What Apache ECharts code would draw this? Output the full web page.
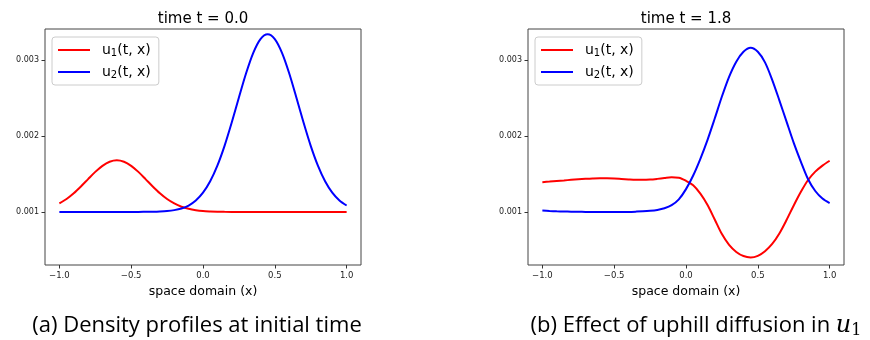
<!DOCTYPE html>
<html><head><meta charset="utf-8">
<script src="https://cdn.jsdelivr.net/npm/echarts@6/dist/echarts.min.js"></script>
<style>html,body{margin:0;padding:0;background:#fff}#c{width:870px;height:340px}</style>
</head><body><div id="c"></div>
<script>
const xs = [-1.0,-0.95,-0.9,-0.85,-0.8,-0.75,-0.7,-0.65,-0.6,-0.55,-0.5,-0.45,-0.4,-0.35,-0.3,-0.25,-0.2,-0.15,-0.1,-0.05,0.0,0.05,0.1,0.15,0.2,0.25,0.3,0.35,0.4,0.45,0.5,0.55,0.6,0.65,0.7,0.75,0.8,0.85,0.9,0.95,1.0];
const u1_t0 = [0.001111,0.001169,0.001245,0.001335,0.001432,0.001527,0.001607,0.001661,0.00168,0.001661,0.001607,0.001527,0.001432,0.001335,0.001245,0.001169,0.001111,0.001068,0.00104,0.001022,0.001011,0.001006,0.001003,0.001001,0.001,0.001,0.001,0.001,0.001,0.001,0.001,0.001,0.001,0.001,0.001,0.001,0.001,0.001,0.001,0.001,0.001];
const u2_t0 = [0.001,0.001,0.001,0.001,0.001,0.001,0.001,0.001,0.001,0.001,0.001,0.001,0.001001,0.001002,0.001005,0.001011,0.001023,0.001045,0.001084,0.00115,0.001253,0.001403,0.001609,0.00187,0.002177,0.002508,0.002827,0.003096,0.003277,0.00334,0.003277,0.003096,0.002827,0.002508,0.002177,0.00187,0.001609,0.001403,0.001253,0.00115,0.001084];
const u1_t18 = [0.001392,0.0014,0.001408,0.001415,0.001422,0.001429,0.001435,0.00144,0.001443,0.001443,0.00144,0.001434,0.001428,0.001423,0.001422,0.001426,0.001435,0.001446,0.001455,0.00145,0.00141,0.00135,0.00124,0.00109,0.0009,0.000707,0.000565,0.000472,0.000418,0.0004,0.000421,0.000482,0.000578,0.000716,0.000893,0.001085,0.001265,0.00142,0.00153,0.00161,0.001674];
const u2_t18 = [0.001017,0.001012,0.001008,0.001005,0.001003,0.001001,0.001,0.000999,0.000998,0.000998,0.000998,0.000999,0.001,0.001003,0.001007,0.001014,0.001026,0.001048,0.001088,0.001165,0.0013,0.00148,0.0017,0.00195,0.00223,0.00252,0.00278,0.00298,0.00311,0.003163,0.00311,0.00297,0.00274,0.00247,0.00219,0.00191,0.00166,0.00143,0.001275,0.001175,0.001115];
const xTicks = [-1, -0.5, 0, 0.5, 1];
const xTickLabels = ['\u22121.0','\u22120.5','0.0','0.5','1.0'];
const yTicks = [0.001, 0.002, 0.003];
const yTickLabels = ['0.001','0.002','0.003'];
const titles = ['time t = 0.0', 'time t = 1.8'];
const xAxisName = 'space domain (x)';
const captionA = '(a) Density profiles at initial time';
const captionB = '(b) Effect of uphill diffusion in ';

const font = 'DejaVu Sans';
const chart = echarts.init(document.getElementById('c'));
function pairs(ys){ return xs.map((x,i)=>[x, ys[i]]); }
const grids = [
  {left:45, right:509, top:29, bottom:75},
  {left:528, right:26, top:29, bottom:75}
];
function mkX(gi){
  return {type:'value', gridIndex:gi, min:-1.1, max:1.1, position:'bottom',
    name:xAxisName, nameLocation:'middle', nameGap:20,
    nameTextStyle:{fontFamily:font,fontSize:12.5,color:'#000'},
    axisLine:{show:false,onZero:false}, splitLine:{show:false},
    axisTick:{show:true,length:3.5,lineStyle:{color:'#333'},customValues:xTicks},
    axisLabel:{customValues:xTicks,fontFamily:font,fontSize:8.5,color:'#222',margin:6,
      formatter:v=>xTickLabels[xTicks.findIndex(t=>Math.abs(t-v)<1e-9)]}};
}
function mkY(gi){
  return {type:'value', gridIndex:gi, min:0.0003, max:0.00341, position:'left',
    axisLine:{show:false,onZero:false}, splitLine:{show:false},
    axisTick:{show:true,length:3.5,lineStyle:{color:'#333'},customValues:yTicks},
    axisLabel:{customValues:yTicks,fontFamily:font,fontSize:8,color:'#222',margin:6,
      formatter:v=>yTickLabels[yTicks.findIndex(t=>Math.abs(t-v)<1e-9)]}};
}
function mkSeries(name, ys, gi, color){
  return {type:'line', name:name, xAxisIndex:gi, yAxisIndex:gi, data:pairs(ys),
    showSymbol:false, smooth:0.3, lineStyle:{color:color,width:2}, itemStyle:{color:color}, silent:true, animation:false};
}
const rich = {
  a:{fontFamily:font,fontSize:14,color:'#000',lineHeight:16},
  s:{fontFamily:font,fontSize:10,color:'#000',lineHeight:16,padding:[6,0,0,0]}
};
function mkLegend(left){
  return {left:left, top:37, orient:'vertical', icon:'rect', itemWidth:32, itemHeight:2,
    itemGap:6, padding:[5,8,5,6], backgroundColor:'#fff', borderColor:'#ccc', borderWidth:1, borderRadius:3,
    selectedMode:false, data:['u1','u2'],
    formatter:n=> n==='u1' ? '{a|u}{s|1}{a|(t, x)}' : '{a|u}{s|2}{a|(t, x)}',
    textStyle:{padding:[0,0,0,7], rich:rich}};
}
const option = {
  animation:false,
  backgroundColor:'#fff',
  grid: grids.map(g=>Object.assign({show:true,borderColor:'#444',borderWidth:1,backgroundColor:'transparent'},g)),
  xAxis:[mkX(0), mkX(1)],
  yAxis:[mkY(0), mkY(1)],
  legend:[mkLegend(52), mkLegend(535)],
  series:[
    mkSeries('u1', u1_t0, 0, '#ff0000'),
    mkSeries('u2', u2_t0, 0, '#0000ff'),
    mkSeries('u1', u1_t18, 1, '#ff0000'),
    mkSeries('u2', u2_t18, 1, '#0000ff')
  ],
  graphic:[
    {type:'text', x:203, y:19, style:{text:titles[0], font:'15px "DejaVu Sans"', fill:'#000', textAlign:'center', textVerticalAlign:'middle'}},
    {type:'text', x:686, y:19, style:{text:titles[1], font:'15px "DejaVu Sans"', fill:'#000', textAlign:'center', textVerticalAlign:'middle'}},
    {type:'text', x:197, y:326, style:{text:captionA, font:'22px "Open Sans"', fill:'#000', textAlign:'center', textVerticalAlign:'middle'}},
    {type:'text', x:696, y:326, style:{text:'{n|'+captionB+'}{m|u}{s|1}', textAlign:'center', textVerticalAlign:'middle',
      rich:{n:{font:'22px "Open Sans"',fill:'#000',lineHeight:26},
            m:{font:'italic 24px "DejaVu Serif"',fill:'#000',lineHeight:26},
            s:{font:'16px "DejaVu Serif"',fill:'#000',lineHeight:26,padding:[9,0,0,0]}}}}
  ]
};
chart.setOption(option);
</script>
</body></html>
